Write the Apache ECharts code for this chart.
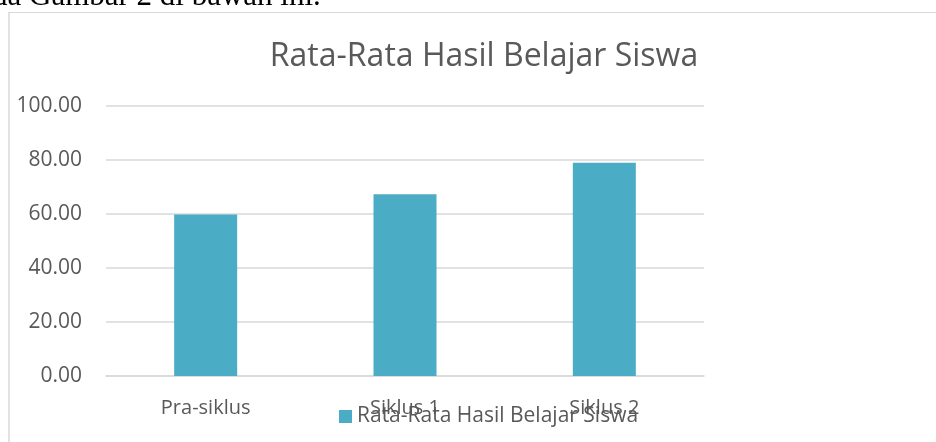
<!DOCTYPE html>
<html lang="id">
<head>
    <meta charset="UTF-8" />
    <title>Rata-Rata Hasil Belajar Siswa</title>
    <script src="https://cdn.jsdelivr.net/npm/echarts@6/dist/echarts.min.js"></script>
    <style>
        html, body { margin: 0; padding: 0; background: #fff; }
    </style>
</head>
<body>
    <div id="main" style="width: 936px; height: 442px"></div>
    <script>
        // data
        var categories = ["Pra-siklus", "Siklus 1", "Siklus 2"];
        var nilaiRata = [59.8, 67.3, 79.0];
        var seriesName = "Rata-Rata Hasil Belajar Siswa";
        var yTicks = [0, 20, 40, 60, 80, 100];

        var myChart = echarts.init(document.getElementById("main"));
        var textColor = "#595959";
        var fontFam = "'Open Sans', 'Noto Sans', sans-serif";

        option = {
            animation: false,
            backgroundColor: "#ffffff",
            title: {
                text: "Rata-Rata Hasil Belajar Siswa",
                left: 479,
                textAlign: "center",
                top: 36,
                textStyle: { color: textColor, fontSize: 32, fontWeight: "normal", fontFamily: fontFam },
            },
            legend: {
                data: [seriesName],
                left: 334,
                top: 401,
                itemWidth: 13,
                itemHeight: 13,
                itemGap: 6,
                icon: "rect",
                textStyle: { color: textColor, fontSize: 21, fontFamily: fontFam },
            },
            graphic: [
                {
                    type: "text",
                    left: -8,
                    top: -19,
                    style: { text: "da Gambar 2 di bawah ini.", font: "31px 'Liberation Serif', serif", fill: "#000" },
                },
                {
                    type: "line",
                    shape: { x1: 9, y1: 12.5, x2: 936, y2: 12.5 },
                    style: { stroke: "#d9d9d9", lineWidth: 1 },
                },
                {
                    type: "line",
                    shape: { x1: 9, y1: 12, x2: 9, y2: 442 },
                    style: { stroke: "#d9d9d9", lineWidth: 1.5 },
                },
            ],
            grid: { left: 106, right: 232, top: 106, bottom: 66 },
            xAxis: {
                type: "category",
                data: categories,
                axisTick: { show: false },
                axisLine: { lineStyle: { color: "#d9d9d9", width: 1.5 } },
                axisLabel: { color: textColor, fontSize: 20, fontFamily: fontFam, margin: 22 },
            },
            yAxis: {
                type: "value",
                min: yTicks[0],
                max: yTicks[yTicks.length - 1],
                interval: 20,
                axisLine: { show: false },
                axisTick: { show: false },
                splitLine: { lineStyle: { color: "#d9d9d9", width: 1.5 } },
                axisLabel: {
                    color: textColor,
                    fontSize: 21,
                    fontFamily: fontFam,
                    margin: 24,
                    formatter: function (v) { return v.toFixed(2); },
                },
            },
            series: [
                {
                    name: seriesName,
                    type: "bar",
                    data: nilaiRata,
                    barWidth: 63,
                    itemStyle: { color: "#4bacc6" },
                },
            ],
        };

        myChart.setOption(option);
    </script>
</body>
</html>
